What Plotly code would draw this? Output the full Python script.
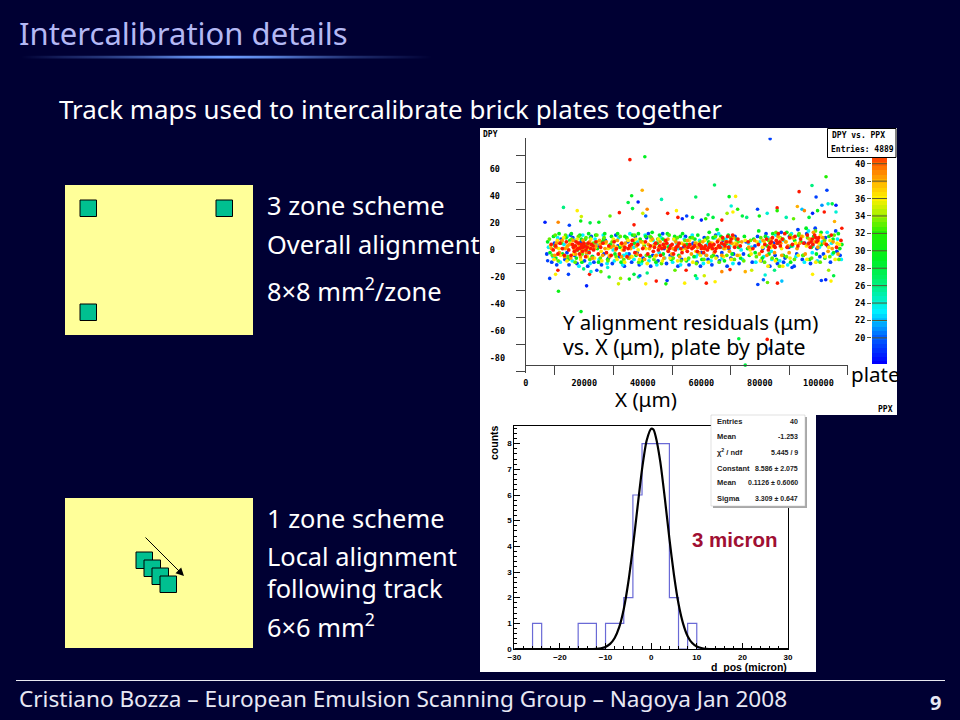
import plotly.graph_objects as go

W, H = 960, 720
def PX(p): return p / W
def PY(p): return 1 - p / H

SLIDE_FONT = "Noto Sans"
BG = "#000033"

# ---- scatter: DPY vs PPX, colour = plate ----
outliers_x = [83500,35600,40700,64500,39800,36200,35000,38400,46400,58100,69500,71700,70200,12900,17600,19000,18800,6600,11100,14900,22000,25000,28800,32000,41500,40000,36500,37000,41000,48500,51500,52000,53500,55000,57000,60000,61500,62300,64000,67000,68800,70800,72400,74000,75500,79200,79800,82500,85900,85900,89000,91500,92800,93400,94400,95200,96800,98000,97800,99200,99700,101200,102000,102600,102900,103300,104700,106000,106000,105500,108000,
 11200,7500,8200,10200,11000,14600,19800,20800,21800,22300,24300,25700,28000,28500,31700,32400,35400,37000,38500,39000,41000,41500,44600,47900,48300,51000,54300,54800,58000,58500,61000,61700,64700,67000,69800,75000,77200,79300,81200,81800,82600,86000,87500,85000,91000,98000,101000,102500,103500,104300,105200,18900,72800,82500,83500,75000]
outliers_y = [82,66.6,68.8,47.9,44,40,35,35.4,37.3,39,39.3,39.5,32.4,31.4,29,24.6,21.4,20.4,20.4,18.2,20,20.4,25,27.5,30,27,30.5,18.5,25,27,29,24,23,25,24,22,23,26,24,22,27,28,30,25,24,30,25,27,31,29,24,23,32,43,30,29,24,27,47.5,39,29,33,28,54,44,34,34,33,28,21,16,
 -30.5,-8,-21,-18,-15,-18,-14,-26.5,-18,-16,-15,-16,-13,-20,-25,-21,-21.5,-18,-20,-19,-25,-17,-23,-25,-22.5,-15,-24.5,-15,-19,-21,-19,-24.5,-23.5,-16,-14.5,-16,-15,-25.5,-22,-18.5,-24,-24.5,-23,-15,-13,-18,-22.5,-22,-15,-23,-19,-45.5,-65.5,-66,-73,-85]
outliers_plate = [19,41.5,29,27,38,29,28,18,25,27,29,36,24,26,36,35,30,18,39,19,28,29,33,41.5,39,35,28,41.5,20,41.5,36,41.5,18,19,28,18,32,27,28,41.5,34,36,32,28,26,19,30,24,41.5,32,25,33,38,41.5,22,39,28,18,26,19,30,21,41.5,32,19,24,28,18,24,38,41.5,
 30,19,19,36,41.5,19,26,18,41.5,24,19,33,24,28,35,34,30,28,26,20,36,26,41.5,31,19,33,36,41.5,28,24,35,41.5,36,39,41.5,38,35,19,20,24,33,41.5,22,26,19,36,19,18,34,36,28,29,28,41.5,19,28]

band_blue = [(7200,-3),(8900,-9),(9800,5),(10600,-11),(12100,8),(13400,-7),(14800,-11),(15300,11),(16700,-4),(17500,-10),(18900,6),(20100,-8),(21200,-12),(22400,10),(23300,-9),(24600,3),(25900,-11),(27200,7),(28300,-6),(29600,-10),(30800,11),(32100,-5),(33700,-12),(34900,6),(36200,-9),(37400,10),(38800,-11),(40100,-6),(41300,9),(42700,-12),(44000,4),(45200,-8),(46800,12),(48100,-10),(49400,-4),(50700,8),(52000,-12),(53300,-7),(54600,10),(55800,-11),(57200,5),(58500,-9),(59700,-12),(61000,9),(62300,-7),(63600,-11),(64900,11),(66200,-8),(67500,7),(68800,-12),(70100,-6),(71500,10),(72900,-10),(75300,6),(77400,-9),(79200,10),(80500,-8),(82100,12),(83400,-12),(84700,5),(86000,-10),(87300,13),(88600,-6),(90100,10),(91700,-12),(93000,15),(94500,-7),(96000,12),(97300,-10),(98900,16),(100500,-5),(102400,9),(104100,-9),(105900,14),(107400,-4),
 (14100,-2),(19700,2),(26700,-3),(31500,3),(38100,-2),(43400,-4),(47300,1),(50100,-6),(56400,3),(60100,-2),(63100,2),(67000,-2),(69400,1),(74400,-3),(78300,3),(81000,1),(85200,-4),(89900,2),(92600,-3),(95300,5),(99500,1),(103200,3),(106300,-1),(16100,9),(22900,-5),(35300,-3),(41900,12),(53900,2),(65300,-5),(71000,-3),(88100,-9),(101700,-3)]
band_cyan = [(7800,2),(9300,-5),(10900,9),(11800,-9),(13100,4),(14200,10),(15900,-8),(17000,7),(18200,-12),(19500,11),(20800,-4),(22000,-10),(23700,8),(25100,-7),(26500,11),(27800,-10),(29000,3),(30300,-8),(31700,9),(33100,-11),(34400,-3),(35600,12),(37000,-7),(38200,6),(39500,-10),(40800,11),(42100,-8),(43500,7),(44800,-11),(46200,9),(47500,-6),(48900,11),(50200,-9),(51600,5),(52900,-11),(54200,8),(55500,-7),(56900,11),(58200,-5),(59400,7),(60700,-10),(62000,4),(63300,-8),(64600,9),(65900,12),(67100,-6),(68400,8),(69700,3),(70800,-10),(72200,7),(74100,-7),(76100,5),(78600,-9),(80000,6),(81300,-5),(82700,9),(84100,-7),(85400,11),(86800,-8),(88200,7),(89500,-11),(90800,12),(92300,-5),(93800,9),(95200,-9),(96600,14),(98100,3),(99600,-8),(101300,6),(103000,13),(104800,-3),(106500,8),(107800,-7),
 (12800,1),(21400,-1),(29900,0),(36900,2),(45600,-2),(52200,1),(58900,-3),(66800,2),(70300,5),(73600,0),(77100,2),(83900,-1),(91200,3),(97900,-2),(100300,2),(104500,5),(24200,4),(33400,-4),(49000,3),(61600,-4)]
band_green = [(7500,6),(8300,-2),(9500,10),(10300,-6),(11400,12),(12600,-3),(13800,9),(14500,-7),(15600,12),(16300,3),(17300,-6),(18500,11),(19200,-9),(20400,8),(21500,12),(22700,-5),(23900,11),(24900,-9),(26100,6),(27000,12),(28000,-7),(29300,10),(30500,-3),(31400,12),(32600,-9),(33900,10),(35100,-6),(36500,11),(37700,-4),(38500,12),(39800,-8),(41000,10),(42400,-5),(43200,13),(44500,-9),(45700,11),(47000,-3),(48400,12),(49700,-7),(50900,10),(52300,-4),(53600,12),(54900,-8),(56200,9),(57500,-5),(58800,11),(60200,-7),(61500,8),(62700,13),(64100,-4),(65400,15),(66700,10),(67900,-8),(69200,11),(70500,-3),(71900,8),(73400,-6),(74700,10),(76400,-4),(77900,8),(79600,14),(80800,-6),(81900,10),(83100,-3),(84400,12),(85700,-7),(86900,9),(88000,-4),(89200,13),(90500,-9),(91900,7),(93200,11),(94700,-4),(95800,16),(97000,-7),(98400,10),(99300,-3),(100900,13),(102200,-6),(103600,10),(105200,-2),(106800,12),(108000,4),
 (10000,3),(12000,5),(15100,7),(17700,0),(19000,8),(20900,4),(22100,9),(24500,1),(26600,8),(28900,4),(30100,7),(32200,2),(34500,9),(37100,5),(39100,8),(40500,3),(42900,9),(44900,5),(46900,8),(48800,2),(51100,7),(52800,10),(55000,4),(57800,8),(59900,3),(62500,6),(64000,9),(66100,3),(68600,5),(72700,2),(75800,1),(78400,-2),(82500,3),(86400,5),(90700,3),(94000,6),(97600,2),(101000,4),(105000,8),(107300,1)]
band_lime = [(8100,8),(9100,-4),(10100,11),(11100,-8),(12300,6),(13600,11),(14400,-5),(15700,8),(16900,-9),(18000,10),(19300,-3),(20600,9),(21900,-7),(23100,5),(24300,11),(25500,-6),(26800,9),(28100,-8),(29500,6),(30900,-5),(32300,10),(33500,-7),(34700,8),(36000,-5),(37200,11),(38600,-9),(39900,6),(41200,-4),(42500,10),(43800,-7),(45100,8),(46400,-10),(47700,6),(49000,11),(50400,-6),(51800,9),(53100,-8),(54400,7),(55700,-6),(57000,9),(58300,-10),(59600,6),(60900,-7),(62200,9),(63500,-5),(64800,10),(66100,-9),(67400,8),(68700,-4),(70000,9),(71300,-7),(72600,6),(74500,-8),(76800,7),(78800,-5),(80300,9),(81600,-9),(83000,7),(84200,-6),(85500,13),(86700,-12),(87900,8),(89100,-5),(90400,11),(91800,-7),(93400,12),(94900,-4),(96300,9),(97700,-6),(99000,14),(100600,-9),(102100,7),(103900,-5),(105400,11),(107000,-7)]
band_yellow = [(8500,3),(9700,-7),(10800,7),(11900,-4),(13000,9),(14100,-8),(15200,5),(16400,-3),(17600,8),(18800,-7),(20000,4),(21100,-5),(22300,8),(23500,-6),(24700,6),(26000,-8),(27300,5),(28600,-4),(29900,8),(31200,-7),(32500,4),(33800,-9),(35000,7),(36300,-5),(37600,8),(38900,-7),(40200,5),(41500,-10),(42800,7),(44100,-5),(45400,8),(46700,-8),(48000,5),(49300,-6),(50600,8),(51900,-8),(53200,5),(54500,-7),(55900,7),(57100,-9),(58400,5),(59700,-4),(61100,7),(62400,-9),(63700,5),(65000,-6),(66300,8),(67600,-5),(68900,6),(70200,-7),(71600,5),(73000,-4),(75000,7),(77000,-3),(79000,6),(80200,-8),(81500,6),(82800,-12),(84000,4),(85300,-8),(86600,9),(87800,-12),(89000,6),(90300,-6),(91600,9),(93100,-4),(94600,10),(96100,-7),(97500,8),(99100,-9),(100700,11),(102300,-5),(104000,7),(105700,-7),(107200,4),
 (11300,1),(14000,2),(16800,1),(19100,-1),(21300,1),(23800,2),(25800,-1),(28200,1),(31000,2),(33000,0),(35700,2),(38400,0),(41100,1),(43700,3),(46300,2),(48500,0),(50800,1),(53500,0),(56300,2),(58100,-1),(60600,1),(63400,1),(65600,2),(68200,1),(71200,3),(76700,0),(80900,2),(83800,2),(87400,1),(92200,5),(95900,3),(100200,5),(103500,2),(106400,5)]
band_orange = [(8800,1),(9900,-4),(10500,5),(11500,-2),(12400,7),(13300,-5),(14300,3),(15400,-6),(16200,7),(17100,-3),(17900,5),(18700,-5),(19600,7),(20700,-2),(21800,6),(22800,-6),(24000,3),(25200,7),(26300,-4),(27500,6),(28700,-5),(30000,3),(31300,7),(32700,-5),(34000,5),(35300,-6),(36700,7),(38000,-3),(39300,6),(40600,-7),(41900,4),(43300,8),(44600,-4),(45900,6),(47200,-6),(48600,8),(49900,-3),(51300,6),(52600,-5),(54000,4),(55300,7),(56600,-3),(57900,5),(59200,-2),(60500,6),(61800,-4),(63100,5),(64400,-2),(65700,7),(67000,-4),(68300,6),(69600,-1),(71000,9),(72300,-4),(73800,6),(76200,2),(78200,7),(79800,-3),(81100,7),(82400,-4),(83700,8),(85000,-2),(86200,10),(87500,-4),(88800,6),(90000,-2),(91300,9),(92700,1),(94200,10),(95500,-3),(96900,8),(98300,13),(99800,2),(101500,9),(103300,-1),(105000,6),(106700,-3),
 (10400,2),(13500,1),(15000,4),(16500,1),(18300,3),(19800,0),(21600,3),(23400,1),(25400,4),(27100,1),(29100,2),(30700,0),(33200,3),(35900,1),(37800,3),(40300,2),(42300,1),(44200,4),(45500,2),(47600,3),(50300,1),(52100,3),(54700,1),(56100,3),(58700,2),(61300,1),(63900,3),(66000,2),(67700,1),(70400,5),(72100,4),(84600,3),(87100,5),(89600,3),(93600,5),(96400,4),(98800,6),(102000,5),(104700,1)]
band_red = [(8700,4),(9400,0),(10200,3),(11000,-3),(11700,5),(12500,1),(13200,-4),(13900,6),(14700,0),(15500,-4),(16000,4),(16600,-1),(17200,6),(17800,1),(18400,-3),(18900,2),(19400,-1),(19900,5),(20500,-5),(21000,2),(21700,-2),(22500,4),(23200,0),(24000,6),(24800,-3),(25600,2),(26400,5),(27600,-2),(28400,3),(29200,-4),(30200,6),(31000,1),(32000,-3),(32800,5),(33600,0),(34600,-5),(35500,3),(36400,7),(37300,-2),(38300,4),(39200,-4),(40000,1),(40900,6),(41700,-3),(42600,3),(43600,-1),(44400,5),(45300,0),(46100,-4),(47000,4),(47800,7),(48700,-1),(49500,3),(50500,-3),(51400,2),(52400,5),(53400,-2),(54300,3),(55200,-1),(56000,4),(56800,1),(57700,3),(58600,-1),(59300,4),(60000,1),(60800,-2),(61400,3),(62100,0),(62900,4),(63800,1),(64700,-1),(65500,6),(66400,2),(67300,9),(68100,3),(69000,10),(69800,6),(70700,11),(71400,2),(72500,8),(73300,3),(76000,6),(77600,1),(79500,4),(80700,-1),(81700,4),(82300,8),(82900,0),(83500,5),(84300,9),(84900,3),(85600,7),(86300,12),(87000,3),(87700,8),(88500,12),(89300,2),(90200,9),(91100,4),(92000,10),(93000,3),(93900,8),(95000,5),(96200,11),(97200,2),(97900,8),(98700,11),(99400,6),(100100,9),(102700,4),(104400,11),(106200,2),(107700,7),
 (16300,2),(17000,3),(17500,0),(18100,5),(18600,1),(19100,4),(19500,2),(20200,3),(20600,0),(21300,5),(22200,1),(23000,3),(33900,2),(35000,1),(36100,4),(44000,2),(45800,3),(46500,1),(47400,2),(48200,5),(49100,1),(50000,4),(51100,0),(51900,3),(53000,1),(55500,2),(57300,2),(59800,3),(60300,2),(61100,1),(62600,2),(63400,3),(64300,4),(65000,1),(65900,3),(66900,5),(67700,4),(68600,6),(69300,2),(70200,8),(83100,2),(84000,6),(85200,2),(85900,5),(86800,6),(96700,5),(97500,6),(98100,4),(99100,9),(99800,7)]
band_groups = [(band_blue, 19), (band_cyan, 23), (band_green, 29), (band_lime, 33),
               (band_yellow, 36), (band_orange, 38.5), (band_red, 41.5)]

scatter_ticks_x = [0, 20000, 40000, 60000, 80000, 100000]
scatter_ticks_y = [60, 40, 20, 0, -20, -40, -60, -80]
scatter_text_y = ["60\u00a0", "40\u00a0", "20\u00a0", "0\u00a0\u00a0", "-20", "-40", "-60", "-80"]
palette_ticks = [20, 22, 24, 26, 28, 30, 32, 34, 36, 38, 40]
palette_levels = [17 + i * 0.5 for i in range(49)]
palette_scale = [[0, "#0000ff"], [0.12, "#0060ff"], [0.24, "#00f0ff"], [0.36, "#00f080"], [0.48, "#00f020"],
                 [0.60, "#20f000"], [0.68, "#a0f000"], [0.76, "#fff000"], [0.84, "#ffb000"], [0.92, "#ff6000"],
                 [1, "#ff0000"]]

# ---- histogram: d_pos ----
bin_edges = [-30,-28,-26,-24,-22,-20,-18,-16,-14,-12,-10,-8,-6,-4,-2,0,2,4,6,8,10,12,14,16,18,20,22,24,26,28,30]
bin_counts = [0,0,1,0,0,0,0,1,1,0,1,1,2,6,8,8,8,2,0,1,0,0,0,0,0,0,0,0,0,0]
fit_x = [-30,-20,-14,-12,-11,-10,-9,-8,-7,-6,-5,-4,-3,-2,-1,0,0.5,1,2,3,4,5,6,7,8,9,10,11,12,14,20,30]
fit_y = [0,0,0,0.01,0.03,0.08,0.2,0.43,0.85,1.56,2.61,3.97,5.51,7.0,8.11,8.58,8.55,8.28,7.3,5.87,4.3,2.89,1.76,0.99,0.5,0.23,0.1,0.04,0.01,0,0,0]

stats_rows = [("Entries", "40"), ("Mean", "-1.253"), ("\u03c7<sup>2</sup> / ndf", "5.445 / 9"),
              ("Constant", "8.586 \u00b1 2.075"), ("Mean", "0.1126 \u00b1 0.6060"), ("Sigma", "3.309 \u00b1 0.647")]
stats_rows_y = [421, 436.7, 452, 468, 483, 498]

title_glow = [0, 0.2, 0.35, 0.55, 0.85, 1, 0.85, 0.55, 0.3, 0.15, 0]

fig = go.Figure()

fig.add_trace(go.Scatter(x=outliers_x, y=outliers_y, mode="markers", xaxis="x", yaxis="y",
                         marker=dict(size=3.6, color=outliers_plate, coloraxis="coloraxis"), showlegend=False))
for pts, plate in band_groups:
    fig.add_trace(go.Scatter(x=[p[0] for p in pts], y=[p[1] for p in pts], mode="markers", xaxis="x", yaxis="y",
                             marker=dict(size=3.8, color=[plate] * len(pts), coloraxis="coloraxis"), showlegend=False))

fig.add_trace(go.Heatmap(z=[[v] for v in palette_levels], y=palette_levels, x=[0.5], coloraxis="coloraxis",
                         xaxis="x3", yaxis="y3", showscale=False))
tx, ty = [], []
for t in palette_ticks:
    tx += [0, 1, None]
    ty += [t, t, None]
fig.add_trace(go.Scatter(x=tx, y=ty, mode="lines", xaxis="x3", yaxis="y3", showlegend=False,
                         line=dict(color="#555533", width=1)))

fig.add_trace(go.Scatter(x=bin_edges, y=bin_counts + [0], mode="lines", xaxis="x2", yaxis="y2", showlegend=False,
                         line=dict(color="#6a6ad6", width=1.2, shape="hv")))
fig.add_trace(go.Scatter(x=fit_x, y=fit_y, mode="lines", xaxis="x2", yaxis="y2", showlegend=False,
                         line=dict(color="black", width=2.2, shape="spline", smoothing=0.6)))

fig.add_trace(go.Heatmap(z=[title_glow, title_glow], coloraxis="coloraxis2", xaxis="x4", yaxis="y4",
                         zsmooth="best", showscale=False))

shapes = []
def rect(x0, y0, x1, y1, fill, line=None, layer="below", lw=1):
    shapes.append(dict(type="rect", xref="paper", yref="paper", x0=PX(x0), x1=PX(x1), y0=PY(y1), y1=PY(y0),
                       fillcolor=fill, layer=layer, line=dict(color=line, width=lw) if line else dict(width=0)))

rect(480, 128, 897, 415, "white")
rect(480, 415, 816, 672, "white")
rect(65, 185, 253, 335, "#ffff99")
rect(65, 498, 253, 648, "#ffff99")
zone_squares = [(80, 200), (216, 200), (80, 304), (136, 552), (144, 560), (152, 568), (160, 576)]
for zx, zy in zone_squares:
    rect(zx, zy, zx + 16.5, zy + 16.5, "#00c090", "black", lw=1)
rect(827.5, 128.5, 896, 157.5, "white", "black", layer="above")
rect(713, 417, 807, 508, "#a8a8a8", layer="above")
rect(711, 415, 805, 506, "white", "#c0c0c0", layer="above", lw=0.5)
shapes.append(dict(type="line", xref="paper", yref="paper", x0=PX(16), x1=PX(945), y0=PY(680.5), y1=PY(680.5),
                   line=dict(color="#e8e8f0", width=1)))

ann = []
def note(text, x, y, size, color="white", anchor="left", family=SLIDE_FONT, weight=None, angle=0):
    f = dict(family=family, size=size, color=color)
    if weight:
        f["weight"] = weight
    ann.append(dict(text=text, x=PX(x), y=PY(y), xref="paper", yref="paper", showarrow=False, xanchor=anchor,
                    yanchor="middle", font=f, textangle=angle, borderpad=0))

note("Intercalibration details", 18, 33, 31, "#b4b8f4")
note("Track maps used to intercalibrate brick plates together", 58, 109, 25.9)
note("3 zone scheme", 266, 205, 25.4)
note("Overall alignment", 266, 243.5, 25.4)
note("8\u00d78 mm<sup>2</sup>/zone", 266, 289, 25.4)
note("1 zone scheme", 266, 518, 25.4)
note("Local alignment", 266, 556, 25.4)
note("following track", 266, 588, 25.4)
note("6\u00d76 mm<sup>2</sup>", 266, 625, 25.4)
note("Cristiano Bozza \u2013 European Emulsion Scanning Group \u2013 Nagoya Jan 2008", 18, 698, 22.6, "#e8e8f4")
note("9", 935, 702, 20, "#e8e8f4", anchor="center", weight=700)

note("Y alignment residuals (\u03bcm)", 562, 321.5, 20.4, "black")
note("vs. X (\u03bcm), plate by plate", 562, 346.5, 21.3, "black")
note("plate", 850, 374, 20.6, "black")
note("X (\u03bcm)", 614, 399, 20.6, "black")
MONO = "DejaVu Sans Mono"
note("DPY", 482, 134, 8, "black", family=MONO, weight=700)
note("PPX", 877, 409, 8, "black", family=MONO, weight=700)
note("DPY vs. PPX", 831, 135, 8, "black", family=MONO, weight=700)
note("Entries: 4889", 830, 149, 8, "black", family=MONO, weight=700)

ARIAL = "Liberation Sans"
for (lab, val), ry in zip(stats_rows, stats_rows_y):
    note(lab, 716, ry, 7.5, "#222222", family=ARIAL, weight=700)
    note(val, 799, ry, 7, "#222222", anchor="right", family=ARIAL, weight=700)
note("counts", 494, 442, 10.5, "black", anchor="center", family=ARIAL, weight=700, angle=-90)
note("d_pos (micron)", 788, 667, 10.5, "black", anchor="right", family=ARIAL, weight=700)
note("3 micron", 734, 539, 20.5, "#a00f32", anchor="center", family=ARIAL, weight=700)

ann.append(dict(x=PX(184), y=PY(576), xref="paper", yref="paper", ax=-40, ay=-40, text="", showarrow=True,
                arrowhead=2, arrowsize=1.6, arrowwidth=1, arrowcolor="black"))

mono_tick = dict(family=MONO, size=8.5, color="black", weight=700)
hist_tick = dict(family=ARIAL, size=8, color="black", weight=700)
hidden = dict(visible=False, fixedrange=True)

fig.update_layout(
    template="none",
    width=W, height=H, autosize=False,
    margin=dict(l=0, r=0, t=0, b=0, pad=0),
    paper_bgcolor=BG, plot_bgcolor="rgba(0,0,0,0)",
    showlegend=False, shapes=shapes, annotations=ann,
    coloraxis=dict(colorscale=palette_scale, cmin=17, cmax=42, showscale=False),
    coloraxis2=dict(colorscale=[[0, BG], [1, "#6c9cff"]], cmin=0, cmax=1, showscale=False),
    xaxis=dict(domain=[PX(525.7), PX(847.7)], range=[0, 110000], anchor="free", position=PY(365), automargin=False,
               tickvals=scatter_ticks_x, ticktext=[str(v) for v in scatter_ticks_x], tickfont=mono_tick,
               ticks="", ticklabelstandoff=10, showgrid=False, zeroline=False, showline=True,
               linecolor="#444444", linewidth=1,
               minor=dict(tick0=10000, dtick=20000, ticks="outside", ticklen=9, tickcolor="#444444", tickwidth=1, showgrid=False)),
    yaxis=dict(domain=[PY(373.3), PY(137.7)], range=[-91, 82.8], anchor="x", automargin=False,
               tickvals=scatter_ticks_y, ticktext=scatter_text_y, tickfont=mono_tick,
               ticks="", ticklabelstandoff=18, showgrid=False, zeroline=False, showline=True,
               linecolor="#444444", linewidth=1,
               minor=dict(tick0=10, dtick=20, ticks="outside", ticklen=9, tickcolor="#444444", tickwidth=1, showgrid=False)),
    xaxis2=dict(domain=[PX(514.3), PX(788)], range=[-30, 30], anchor="y2", dtick=10, tick0=-30, automargin=False,
                ticks="inside", ticklen=6, tickcolor="black", tickfont=hist_tick, showgrid=False, zeroline=False,
                showline=True, linecolor="black", linewidth=1, mirror=True,
                minor=dict(dtick=2, ticks="inside", ticklen=3, tickcolor="black", showgrid=False)),
    yaxis2=dict(domain=[PY(649), PY(425.7)], range=[0, 8.7], anchor="x2", dtick=1, tick0=0, automargin=False,
                ticks="inside", ticklen=6, tickcolor="black", tickfont=hist_tick, showgrid=False, zeroline=False,
                showline=True, linecolor="black", linewidth=1, mirror=True,
                minor=dict(dtick=0.2, ticks="inside", ticklen=3, tickcolor="black", showgrid=False)),
    xaxis3=dict(domain=[PX(872), PX(887)], range=[0, 1], anchor="y3", visible=False, fixedrange=True, automargin=False),
    yaxis3=dict(domain=[PY(364), PY(155)], range=[17, 41], anchor="x3", tickvals=palette_ticks, tickfont=mono_tick,
                ticks="outside", ticklen=4, tickcolor="#555533", showgrid=False, zeroline=False, showline=False, automargin=False),
    xaxis4=dict(domain=[0, PX(452)], anchor="y4", automargin=False, **hidden),
    yaxis4=dict(domain=[PY(59), PY(55.5)], anchor="x4", automargin=False, **hidden),
)

fig.write_html("out.html", config={"displayModeBar": False},
               post_script="document.body.style.margin='0';document.body.style.background='%s';" % BG)
